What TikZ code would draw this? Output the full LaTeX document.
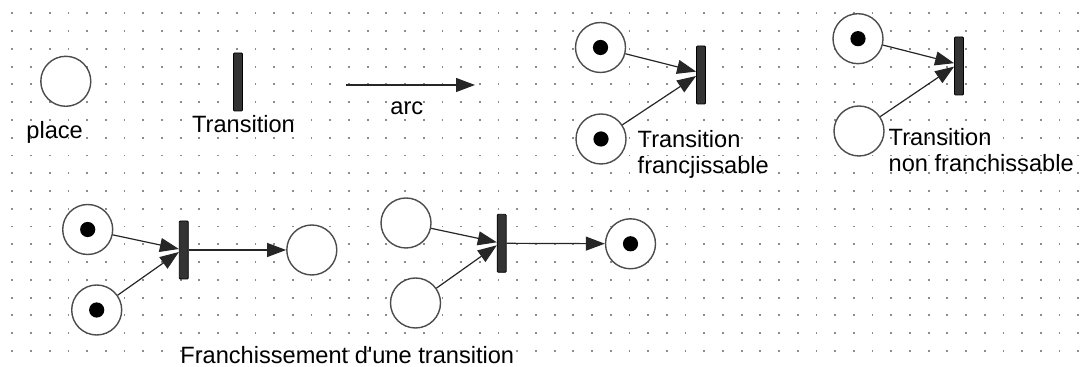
\documentclass[tikz,border=0pt]{standalone}
\usepackage{fontspec}
\setmainfont{Liberation Sans}
\usetikzlibrary{arrows.meta}
\begin{document}
\begin{tikzpicture}[x=0.5pt,y=-0.5pt]
	\tikzset{place/.style = {shape=circle,draw=black!70,line width=0.7pt,fill=white,minimum size=25pt,inner sep=0pt}}
	\tikzset{marked/.style = {place,path picture={\fill[black] (path picture bounding box.center) circle (3.8pt);}}}
	\tikzset{trans/.style = {shape=rectangle,draw=black,fill=black!80,line width=0.4pt,minimum width=4.5pt,minimum height=29pt,inner sep=0pt,rounded corners=0.5pt}}
	\tikzset{edge/.style = {-{Triangle[length=9.5pt,width=7pt]},line width=0.6pt,draw=black!85}}
	\tikzset{caption/.style = {inner sep=0pt,font=\fontsize{11.8pt}{13pt}\selectfont}}
	\useasboundingbox (0,0) rectangle (1092,367);
	% Draw dotted grid
	\foreach \i in {0,...,57}
		\foreach \j in {0,...,19}
			\fill[black!45] ({11.4+18.7*\i},{12.4+17.77*\j}) rectangle +(1.8,1.8);
	% Draw legend
	\node[place] (P) at (65.8,81.3) {};
	\node[caption, anchor=base west] (Plbl) at (26,138.3) {place};
	\node[trans] (T) at (238,82) {};
	\node[caption, anchor=base west] (Tlbl) at (191.7,132.7) {Transition};
	\coordinate (A1) at (346,85);
	\coordinate (A2) at (475,85);
	\draw[edge] (A1) -- (A2);
	\node[caption, anchor=base west] (Albl) at (390,114.3) {arc};
	% Draw enabled transition
	\node[marked] (P11) at (600.5,47.5) {};
	\node[marked] (P12) at (601,139) {};
	\node[trans] (T1) at (701,75) {};
	\draw[edge] (P11) to ([yshift=1.7pt]T1.west);
	\draw[edge] (P12) to ([yshift=-0.5pt]T1.west);
	\node[caption, align=left, anchor=north west] (T1lbl) at (637.3,130) {Transition\\francjissable};
	% Draw disabled transition
	\node[marked] (P21) at (858,38.7) {};
	\node[place] (P22) at (859,131) {};
	\node[trans] (T2) at (959,66) {};
	\draw[edge] (P21) to ([yshift=1.4pt]T2.west);
	\draw[edge] (P22) to ([yshift=-0.3pt]T2.west);
	\node[caption, align=left, anchor=north west] (T2lbl) at (888.3,128.3) {Transition\\non franchissable};
	% Draw firing, before
	\node[marked] (P31) at (87.7,229.5) {};
	\node[marked] (P32) at (96.7,310) {};
	\node[trans] (T3) at (183.8,250) {};
	\node[place] (P33) at (311.8,250) {};
	\draw[edge] (P31) to ([yshift=0.5pt]T3.west);
	\draw[edge] (P32) to ([yshift=-1pt]T3.west);
	\draw[edge] (T3) to (P33);
	% Draw firing, after
	\node[place] (P41) at (406,223) {};
	\node[place] (P42) at (415.5,303) {};
	\node[trans] (T4) at (501.7,243.3) {};
	\node[marked] (P43) at (630.5,243.8) {};
	\draw[edge] (P41) to ([yshift=0.5pt]T4.west);
	\draw[edge] (P42) to ([yshift=-1pt]T4.west);
	\draw[edge] (T4) to (P43);
	\node[caption, anchor=base west] (Flbl) at (180,364) {Franchissement d\textquotesingle une transition};
\end{tikzpicture}
\end{document}
